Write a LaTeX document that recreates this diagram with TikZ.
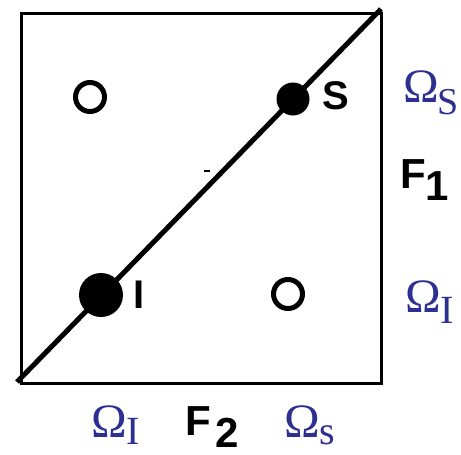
\documentclass[tikz,border=0pt]{standalone}
\usepackage{fontspec}
\setmainfont{Liberation Serif}
\setsansfont{Liberation Sans}
\usetikzlibrary{positioning}
\definecolor{omegaBlue}{RGB}{45,48,145}
\tikzset{
  hollow/.style={circle, draw, line width=5pt, fill=white, inner sep=0pt, minimum size=29pt},
  dot/.style={circle, fill=black, inner sep=0pt},
  ptlabel/.style={font=\sffamily\bfseries\fontsize{40}{40}\selectfont, inner sep=0pt},
  flabel/.style={anchor=base west, inner sep=0pt, font=\sffamily\bfseries\fontsize{42}{42}\selectfont},
  omega/.style={anchor=base west, inner sep=0pt, text=omegaBlue, font=\fontsize{48}{48}\selectfont}
}

\begin{document}
\begin{tikzpicture}[x=1pt,y=-1pt]
  \useasboundingbox (0,0) rectangle (461,455);
  \draw[line width=3pt] (21,13) rectangle (381,383);
  \coordinate (lo) at (17,382);
  \coordinate (hi) at (381,9);
  \draw[line width=5pt] (lo) -- (hi);
  \draw[line width=2pt] (204,171) -- (210,171);

  \node[hollow] (oa) at (90,97) {};
  \node[hollow] (ob) at (288,294) {};
  \node[dot, minimum size=33pt] (S) at (293,99) {};
  \node[dot, minimum size=44pt] (I) at (101,295) {};
  \node[ptlabel] (slab) at (336,96) {S};
  \node[ptlabel] (ilab) at (139,295) {I};

  \node[flabel] (f1) at (400,188) {F\raisebox{-12pt}{1}};
  \node[flabel] (f2) at (185,435) {F\hspace{5pt}\raisebox{-12pt}{2}};

  \node[omega] (wsr) at (403,102) {Ω\kern-1pt\raisebox{-12pt}{\fontsize{38}{38}\selectfont S}};
  \node[omega] (wir) at (405,312) {Ω\raisebox{-11pt}{\fontsize{40}{40}\selectfont I}};
  \node[omega] (wib) at (91,437) {Ω\raisebox{-7pt}{\fontsize{40}{40}\selectfont I}};
  \node[omega] (wsb) at (284,437) {Ω\raisebox{-7pt}{\fontsize{40}{40}\selectfont s}};
\end{tikzpicture}
\end{document}
